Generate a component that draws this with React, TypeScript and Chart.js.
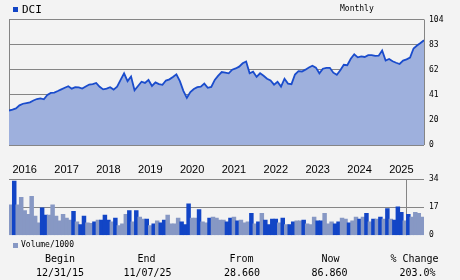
import React, { useEffect, useRef } from 'react';
import { Chart, registerables } from 'chart.js';

Chart.register(...registerables);

// ---- data ----
const priceValues = [
  28.66, 29.5, 30.5, 33, 34.3, 34.9, 35.5, 37, 38.2, 38.7,
  38, 41.5, 43.3, 43.5, 44.8, 46.2, 47.5, 48.8, 46.8, 48,
  47.8, 46.8, 48.5, 50.2, 50.6, 51.5, 48.3, 46.2, 46.8, 48,
  46, 48.5, 54, 59.5, 53, 56.8, 45.5, 49, 52.5, 51.5,
  54, 49, 52, 50.5, 50, 53.5, 54.5, 56.5, 58.7, 53,
  45, 39.2, 44, 46.5, 48, 48.5, 51, 47.5, 48.2, 54,
  57.5, 60.5, 60, 59.5, 62.5, 63.5, 65, 67.8, 69.3, 59.5,
  60.8, 56.5, 59.5, 57.5, 55, 53.5, 50.1, 52.5, 48.5, 55,
  51, 50.5, 58.5, 61.3, 61, 62.5, 64.3, 65.8, 64.2, 59.5,
  63.3, 64, 64, 60, 58.2, 62, 66.5, 66.2, 71.5, 75.2,
  72.7, 73.5, 73, 74.5, 74.5, 73.9, 74.1, 78.4, 70, 71.3,
  69.5, 68.2, 67.2, 70, 71, 72.5, 80, 82.5, 84.5, 86.86,
];

const volumeValues = [
  18.3, 32.7, 18.3, 22.8, 14.8, 12.5, 23.4, 11.4, 7.4, 16.5,
  12, 12, 18.3, 11.4, 8.6, 12.5, 10.3, 9.1, 14.3, 8,
  6.3, 11.4, 7.4, 7.1, 8, 9.1, 9.1, 12, 9.1, 8,
  10.3, 5.7, 6.8, 12.5, 14.8, 8, 14.8, 10.8, 9.7, 9.7,
  5.7, 6.8, 8.6, 7.4, 9.1, 12, 6.8, 6.8, 10.3, 8,
  6.3, 18.8, 10.3, 10.3, 15.4, 8, 7.4, 10.3, 10.8, 10.3,
  9.1, 9.1, 8, 10.3, 10.8, 8.6, 9.1, 7.4, 8, 13.1,
  6.8, 8, 13.1, 9.1, 6.3, 9.7, 9.7, 7.4, 10.3, 6.3,
  6.3, 8, 8.6, 8.6, 9.1, 6.8, 6.3, 10.8, 8.6, 8.6,
  13.1, 6.8, 8, 6.8, 8, 10.3, 9.7, 7.4, 8.6, 10.8,
  9.7, 10.8, 13.1, 8, 9.7, 9.7, 10.8, 9.7, 16, 9.7,
  9.1, 17.1, 13.7, 8.6, 12.5, 10.8, 13.7, 13.1, 10.8,
];

// 1 = dark bar, 0 = light bar
const volumeUp = [
  0, 1, 0, 0, 0, 0, 0, 0, 0, 1,
  1, 0, 0, 0, 0, 0, 0, 0, 1, 0,
  1, 1, 0, 0, 1, 0, 1, 1, 1, 0,
  1, 0, 0, 0, 1, 0, 1, 0, 0, 1,
  0, 1, 0, 1, 1, 0, 0, 0, 0, 1,
  1, 1, 0, 0, 1, 0, 0, 1, 0, 0,
  0, 0, 1, 1, 0, 1, 0, 0, 0, 1,
  0, 1, 0, 1, 1, 1, 1, 0, 1, 0,
  1, 1, 0, 0, 1, 0, 0, 0, 1, 1,
  0, 0, 0, 1, 1, 0, 0, 1, 0, 0,
  1, 0, 1, 0, 1, 0, 1, 0, 1, 0,
  1, 1, 1, 0, 1, 0, 0, 0, 0,
];

const yearLabels = ['2016', '2017', '2018', '2019', '2020', '2021', '2022', '2023', '2024', '2025'];
const yearTickIndex = [1, 13, 25, 37, 49, 61, 73, 85, 97, 109];
const priceTicks = [0, 20.8, 41.6, 62.4, 83.2, 104];
const priceTickLabels = ['0', '20', '41', '62', '83', '104'];
const volumeTicks = [0, 17, 34];
const volumeTickLabels = ['0', '17', '34'];
const statHeaders = ['Begin', 'End', 'From', 'Now', '% Change'];
const statValues = ['12/31/15', '11/07/25', '28.660', '86.860', '203.0%'];

// ---- styles ----
const BG = '#f3f3f3';
const GRID = '#858585';
const LINE = '#1a4ccc';
const FILL = '#9eb0dd';
const DARK = '#1245c6';
const LIGHT = '#8798c4';
const MONO = '"DejaVu Sans Mono", monospace';

const W = 460;
const PAD_LEFT = 9;
const AXIS_W = 36;

const headerCenters = [60, 146.5, 241.5, 330.5, 414.5];
const valueCenters = [60, 147.5, 242, 329.5, 417.5];

export default function App() {
  const priceRef = useRef<HTMLCanvasElement>(null);
  const volRef = useRef<HTMLCanvasElement>(null);

  useEffect(() => {
    const lastIndex = priceValues.length - 1;
    const nBars = volumeValues.length;
    const barW = (W - PAD_LEFT - AXIS_W) / nBars;
    const tickFont = { family: MONO, size: 8 };

    const priceChart = new Chart(priceRef.current as HTMLCanvasElement, {
      type: 'line',
      data: {
        datasets: [
          {
            data: priceValues.map((v, i) => ({ x: i, y: v })),
            borderColor: LINE,
            backgroundColor: FILL,
            fill: 'origin',
            borderWidth: 1.8,
            pointRadius: 0,
            tension: 0,
          },
        ],
      },
      options: {
        animation: false,
        responsive: false,
        maintainAspectRatio: false,
        events: [],
        layout: { padding: { left: PAD_LEFT, top: 19.5, right: 0, bottom: 6 } },
        plugins: { legend: { display: false }, tooltip: { enabled: false } },
        scales: {
          x: {
            type: 'linear',
            min: 0,
            max: lastIndex,
            afterBuildTicks: (s: any) => {
              s.ticks = [{ value: 0 }, { value: lastIndex }];
            },
            ticks: { display: false },
            grid: { color: GRID, drawTicks: false, lineWidth: 1 },
            border: { display: false },
            afterFit: (s: any) => {
              s.height = 0;
            },
          },
          y: {
            position: 'right',
            min: 0,
            max: 104,
            afterBuildTicks: (s: any) => {
              s.ticks = priceTicks.map((v) => ({ value: v }));
            },
            ticks: {
              callback: (_v: any, i: number) => priceTickLabels[i],
              padding: 5,
              font: tickFont,
              color: '#000',
            },
            grid: { color: GRID, drawTicks: false, lineWidth: 1 },
            border: { display: false },
            afterFit: (s: any) => {
              s.width = AXIS_W;
            },
          },
        },
      } as any,
    });

    const volChart = new Chart(volRef.current as HTMLCanvasElement, {
      type: 'bar',
      data: {
        datasets: [
          {
            data: volumeValues.map((v, i) => ({ x: i + 0.5, y: v })),
            backgroundColor: volumeUp.map((u) => (u ? DARK : LIGHT)),
            borderWidth: 0,
            barThickness: barW,
            inflateAmount: 0.5,
          },
        ],
      },
      options: {
        animation: false,
        responsive: false,
        maintainAspectRatio: false,
        events: [],
        layout: { padding: { left: PAD_LEFT, top: 0, right: 0, bottom: 6 } },
        plugins: { legend: { display: false }, tooltip: { enabled: false } },
        scales: {
          x: {
            type: 'linear',
            position: 'top',
            min: 0,
            max: nBars,
            offset: false,
            afterBuildTicks: (s: any) => {
              s.ticks = [0, ...yearTickIndex, nBars].map((v) => ({ value: v }));
            },
            ticks: {
              autoSkip: false,
              maxRotation: 0,
              minRotation: 0,
              align: 'start',
              padding: 2.4,
              font: { family: '"Liberation Sans", Arial, sans-serif', size: 11 },
              color: '#000',
              callback: (v: any) => {
                const k = yearTickIndex.indexOf(v);
                return k >= 0 ? yearLabels[k] : '';
              },
            },
            grid: {
              drawTicks: false,
              lineWidth: 1,
              color: (ctx: any) =>
                ctx.tick && (ctx.tick.value === 0 || ctx.tick.value === nBars) ? GRID : 'rgba(0,0,0,0)',
            },
            border: { display: false },
            afterFit: (s: any) => {
              s.height = 29;
            },
          },
          y: {
            position: 'right',
            min: 0,
            max: 34,
            afterBuildTicks: (s: any) => {
              s.ticks = volumeTicks.map((v) => ({ value: v }));
            },
            ticks: {
              callback: (_v: any, i: number) => volumeTickLabels[i],
              padding: 5,
              font: tickFont,
              color: '#000',
            },
            grid: {
              drawTicks: false,
              lineWidth: 1,
              color: (ctx: any) => (ctx.tick && ctx.tick.value === 0 ? 'rgba(0,0,0,0)' : GRID),
            },
            border: { display: false },
            afterFit: (s: any) => {
              s.width = AXIS_W;
            },
          },
        },
      } as any,
    });

    return () => {
      priceChart.destroy();
      volChart.destroy();
    };
  }, []);

  const abs = (extra: React.CSSProperties): React.CSSProperties => ({
    position: 'absolute',
    whiteSpace: 'nowrap',
    color: '#000',
    ...extra,
  });

  return (
    <div
      style={{
        position: 'fixed',
        left: 0,
        top: 0,
        width: W,
        height: 280,
        background: BG,
        overflow: 'hidden',
      }}
    >
      <canvas
        ref={priceRef}
        width={W}
        height={155}
        style={{ position: 'absolute', left: 0, top: 0, width: W, height: 155, display: 'block' }}
      />
      <canvas
        ref={volRef}
        width={W}
        height={95}
        style={{ position: 'absolute', left: 0, top: 150, width: W, height: 95, display: 'block' }}
      />

      {/* top legend */}
      <div style={abs({ left: 13, top: 7, width: 5, height: 5, background: DARK })} />
      <div style={abs({ left: 22, top: 3, fontFamily: MONO, fontSize: 11, lineHeight: '13px' })}>DCI</div>
      <div style={abs({ left: 340, top: 4, fontFamily: MONO, fontSize: 8, lineHeight: '10px' })}>Monthly</div>

      {/* volume legend */}
      <div style={abs({ left: 13, top: 243, width: 5, height: 5, background: LIGHT })} />
      <div style={abs({ left: 21, top: 240, fontFamily: MONO, fontSize: 8, lineHeight: '10px' })}>Volume/1000</div>

      {/* stats */}
      {statHeaders.map((h, i) => (
        <div
          key={'h' + i}
          style={abs({
            left: headerCenters[i] - 50,
            width: 100,
            textAlign: 'center',
            top: 253,
            fontFamily: MONO,
            fontSize: 10,
            lineHeight: '12px',
          })}
        >
          {h}
        </div>
      ))}
      {statValues.map((v, i) => (
        <div
          key={'v' + i}
          style={abs({
            left: valueCenters[i] - 50,
            width: 100,
            textAlign: 'center',
            top: 266.5,
            fontFamily: MONO,
            fontSize: 10,
            lineHeight: '12px',
          })}
        >
          {v}
        </div>
      ))}
    </div>
  );
}
